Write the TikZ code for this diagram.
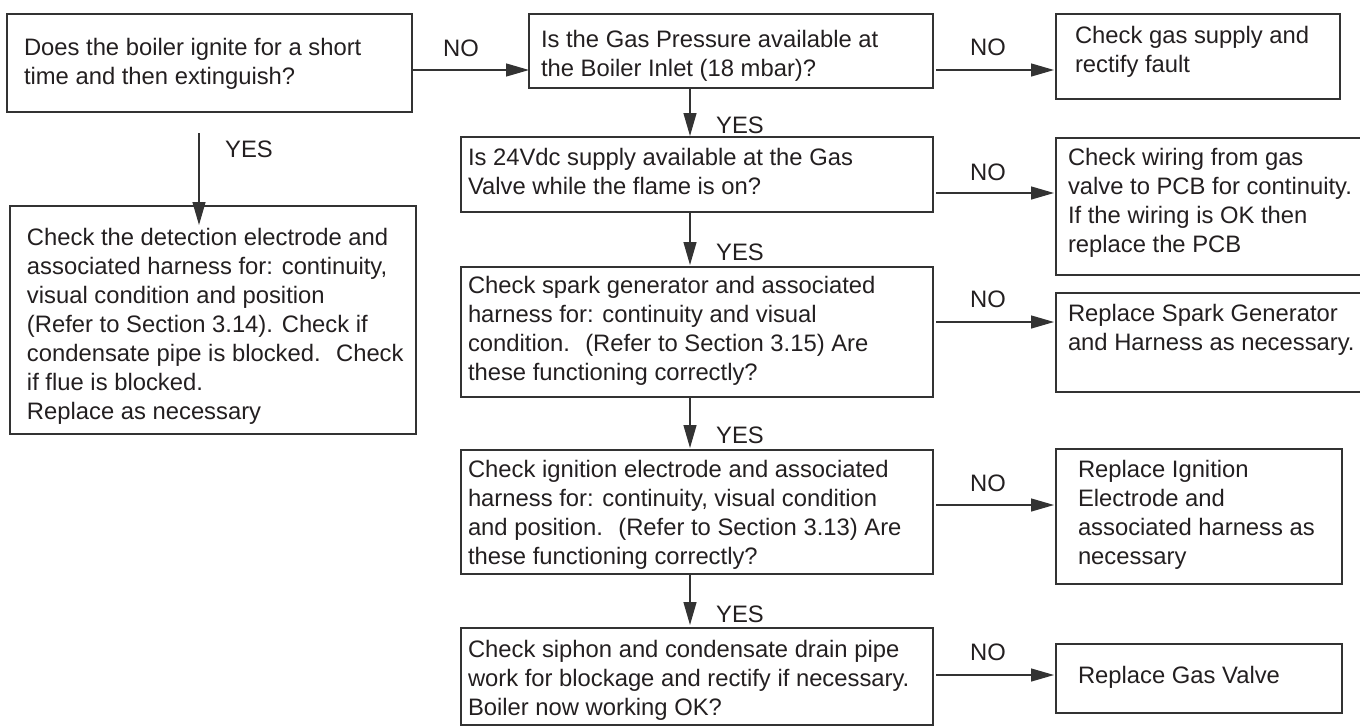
\documentclass[tikz,border=0pt]{standalone}
\usepackage{fontspec}
\setmainfont{Liberation Sans}
\usetikzlibrary{arrows.meta}
\definecolor{ln}{HTML}{333333}
\definecolor{tx}{HTML}{231F20}
\hfuzz=\maxdimen \vfuzz=\maxdimen \hbadness=10000 \vbadness=10000
% name, x1, y1, x2, y2, text-left, first-baseline, lines
\newcommand\mybox[8]{%
  \pgfmathsetmacro\myPX{#6-#2}%
  \pgfmathsetmacro\myPY{#7-#3-20.3}%
  \pgfmathsetmacro\myBW{#4-#2-2*\myPX}%
  \pgfmathsetmacro\myBH{#5-#3-2*\myPY}%
  \node[box, inner xsep=\myPX pt, inner ysep=\myPY pt, anchor=north west] (#1) at (#2,#3)
    {\parbox[t][\myBH pt][t]{\myBW pt}{\begin{tabular}[t]{@{}l@{}}#8\end{tabular}}};}
\begin{document}
\begin{tikzpicture}[x=1pt,y=-1pt,
  box/.style={draw=ln, line width=1.3pt, text=tx, rectangle, outer sep=0pt,
    font=\fontsize{23.8}{29}\selectfont},
  lab/.style={text=tx, inner sep=0pt, anchor=base, font=\fontsize{23.8}{29}\selectfont},
  arr/.style={draw=ln, line width=1.3pt, -{Triangle[length=23pt,width=13pt]}}]
\useasboundingbox (0,0) rectangle (1360,726);

\mybox{A}{7}{14}{412}{112}{24}{55}{Does the boiler ignite for a short\\ time and then extinguish?}
\mybox{B}{529}{14}{933}{88}{541}{47}{Is the Gas Pressure available at\\ the Boiler Inlet (18 mbar)?}
\mybox{C}{1056}{14}{1340}{99}{1075}{43}{Check gas supply and\\ rectify fault}
\mybox{D}{461}{137}{933}{212}{468}{165}{Is 24Vdc supply available at the Gas\\ Valve while the flame is on?}
\mybox{E}{1056}{138}{1365}{275}{1068}{165}{Check wiring from gas\\ valve to PCB for continuity.\\ If the wiring is OK then\\ replace the PCB}
\mybox{F}{10}{206}{416}{434}{27}{245}{Check the detection electrode and\\ associated harness for: continuity,\\ visual condition and position\\ (Refer to Section 3.14). Check if\\ condensate pipe is blocked.~ Check\\ if flue is blocked.\\ Replace as necessary}
\mybox{G}{461}{267}{933}{397}{468}{293}{Check spark generator and associated\\ harness for: continuity and visual\\ condition.~ (Refer to Section 3.15) Are\\ these functioning correctly?}
\mybox{I}{1056}{293}{1365}{392}{1068}{321}{Replace Spark Generator\\ and Harness as necessary.}
\mybox{H}{461}{450}{933}{574}{468}{477}{Check ignition electrode and associated\\ harness for: continuity, visual condition\\ and position.~ (Refer to Section 3.13) Are\\ these functioning correctly?}
\mybox{J}{1056}{449}{1342}{584}{1078}{477}{Replace Ignition\\ Electrode and\\ associated harness as\\ necessary}
\mybox{K}{461}{628}{933}{725}{468}{657}{Check siphon and condensate drain pipe\\ work for blockage and rectify if necessary.\\ Boiler now working OK?}
\mybox{L}{1056}{644}{1342}{713}{1078}{683}{Replace Gas Valve}

% NO connectors
\draw[arr] (A.east |- 0,70) -- (B.west |- 0,70);
\draw[arr, shorten <=3pt, shorten >=2pt] (B.east |- 0,70) -- (C.west |- 0,70);
\draw[arr, shorten <=3pt, shorten >=2pt] (D.east |- 0,193) -- (E.west |- 0,193);
\draw[arr, shorten <=3pt, shorten >=2pt] (G.east |- 0,322) -- (I.west |- 0,322);
\draw[arr, shorten <=3pt, shorten >=2pt] (H.east |- 0,505) -- (J.west |- 0,505);
\draw[arr, shorten <=3pt, shorten >=2pt] (K.east |- 0,675) -- (L.west |- 0,675);
% YES connectors
\draw[arr, shorten <=21pt, shorten >=-19pt] (A.south -| 199,0) -- (F.north -| 199,0);
\draw[arr, shorten >=1pt] (B.south -| 690,0) -- (D.north -| 690,0);
\draw[arr, shorten >=2pt] (D.south -| 690,0) -- (G.north -| 690,0);
\draw[arr, shorten >=2pt] (G.south -| 690,0) -- (H.north -| 690,0);
\draw[arr, shorten >=3pt] (H.south -| 690,0) -- (K.north -| 690,0);

% labels
\node[lab] (n1) at (461,56) {NO};
\node[lab] (n2) at (988,55) {NO};
\node[lab] (n3) at (988,180) {NO};
\node[lab] (n4) at (988,307) {NO};
\node[lab] (n5) at (988,491) {NO};
\node[lab] (n6) at (988,660) {NO};
\node[lab] (y1) at (249,157) {YES};
\node[lab] (y2) at (740,133) {YES};
\node[lab] (y3) at (740,260) {YES};
\node[lab] (y4) at (740,443) {YES};
\node[lab] (y5) at (740,622) {YES};
\end{tikzpicture}
\end{document}
